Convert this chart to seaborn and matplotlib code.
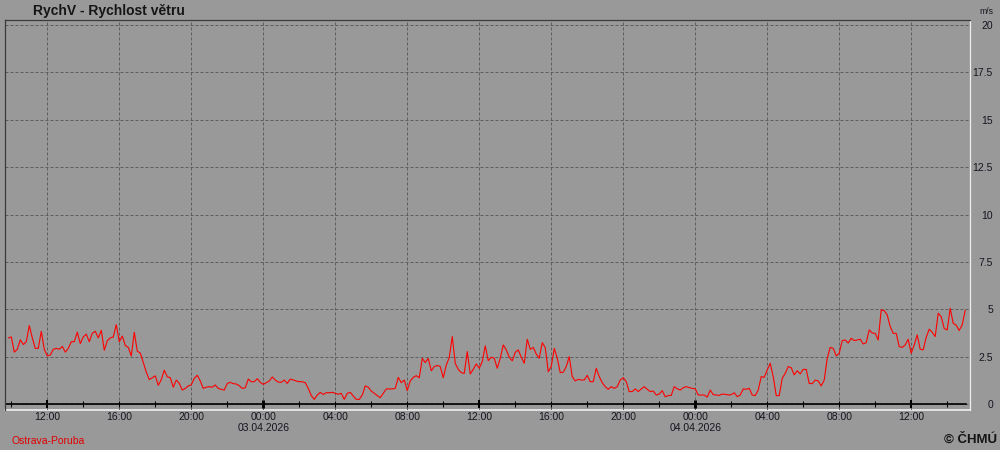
import pandas as pd
import matplotlib
matplotlib.use("Agg")
import matplotlib.pyplot as plt
import matplotlib.dates as mdates
from matplotlib.ticker import MultipleLocator, FuncFormatter
import seaborn as sns

# Wind speed (m/s), 10-minute readings
start_time = "2026-04-02 09:50"
station = "Ostrava-Poruba"
title = "RychV - Rychlost větru"

# 02.04.2026 09:50 - 23:50
speed_02 = [3.5, 3.55, 2.75, 2.9, 3.4, 3.15, 3.3, 4.15, 3.5, 2.95,
            2.95, 3.85, 2.9, 2.55, 2.6, 2.9, 2.95, 2.9, 3.05, 2.75,
            2.95, 3.3, 3.3, 3.8, 3.2, 3.55, 3.7, 3.3, 3.75, 3.85,
            3.5, 3.9, 2.85, 3.35, 3.5, 3.55, 4.2, 3.3, 3.6, 3.1,
            3.0, 2.55, 3.8, 2.8, 2.7, 2.2, 1.7, 1.3, 1.4, 1.5,
            1.0, 1.3, 1.8, 1.45, 1.4, 0.9, 1.28, 1.1, 0.75, 0.84,
            0.97, 1.02, 1.37, 1.53, 1.23, 0.84, 0.9, 0.93, 0.9, 1.02,
            0.84, 0.79, 0.75, 1.1, 1.16, 1.09, 1.07, 0.98, 0.84, 0.87,
            1.33, 1.19, 1.19, 1.35, 1.16]

# 03.04.2026 00:00 - 23:50
speed_03 = [1.05, 1.14, 1.23, 1.44, 1.28, 1.17, 1.16, 1.28, 1.1, 1.33,
            1.28, 1.23, 1.19, 1.19, 1.14, 0.84, 0.46, 0.26, 0.49, 0.63,
            0.52, 0.61, 0.61, 0.63, 0.58, 0.53, 0.58, 0.26, 0.58, 0.63,
            0.44, 0.26, 0.26, 0.49, 0.97, 0.9, 0.7, 0.58, 0.46, 0.35,
            0.58, 0.81, 0.81, 0.81, 0.84, 1.42, 1.14, 1.28, 0.72, 1.23,
            1.42, 1.51, 1.4, 2.42, 2.2, 2.42, 1.77, 1.99, 2.05, 1.99,
            1.4, 2.07, 2.46, 3.57, 2.16, 1.84, 1.67, 1.63, 2.78, 1.6,
            1.84, 2.13, 1.9, 2.25, 3.08, 2.3, 2.48, 2.43, 1.9, 2.43,
            3.13, 2.87, 2.48, 2.29, 2.74, 2.87, 2.48, 2.16, 3.43, 2.9,
            3.0, 2.65, 2.43, 3.25, 2.99, 1.72, 1.99, 2.95, 2.43, 1.67,
            1.69, 1.99, 2.51, 1.46, 1.23, 1.32, 1.28, 1.28, 1.53, 1.19,
            1.19, 1.9, 1.46, 1.14, 0.93, 0.79, 0.93, 0.84, 0.93, 1.28,
            1.4, 1.19, 0.67, 0.67, 0.81, 0.67, 0.81, 0.93, 0.79, 0.67,
            0.7, 0.49, 0.54, 0.72, 0.4, 0.46, 0.47, 0.93, 0.82, 0.75,
            0.88, 0.93, 0.88, 0.84]

# 04.04.2026 00:00 - 15:00
speed_04 = [0.82, 0.49, 0.49, 0.49, 0.38, 0.75, 0.51, 0.49, 0.47, 0.54,
            0.53, 0.49, 0.51, 0.61, 0.4, 0.49, 0.81, 0.79, 0.84, 0.49,
            0.46, 0.75, 1.46, 1.42, 1.81, 2.16, 1.46, 0.46, 0.46, 1.37,
            1.63, 1.99, 1.93, 1.55, 1.77, 1.6, 1.84, 1.84, 1.1, 1.09,
            1.28, 1.23, 0.97, 1.28, 2.42, 3.0, 2.95, 2.55, 2.69, 3.36,
            3.39, 3.23, 3.48, 3.36, 3.39, 3.43, 3.18, 3.25, 3.92, 3.76,
            3.74, 3.39, 4.98, 4.94, 4.71, 4.1, 3.74, 3.74, 3.04, 3.0,
            3.13, 3.43, 2.69, 3.13, 3.66, 2.9, 2.87, 3.53, 3.96, 3.8,
            3.57, 4.8, 4.62, 4.0, 3.92, 5.06, 4.27, 4.17, 3.89, 4.19,
            4.95]

speed = speed_02 + speed_03 + speed_04
df = pd.DataFrame({
    "time": pd.date_range(start_time, periods=len(speed), freq="10min"),
    "speed": speed,
})

bg = "#999999"
sns.set_style("ticks")
plt.rcParams["font.family"] = ["Liberation Sans", "DejaVu Sans"]

fig = plt.figure(figsize=(10, 4.5), dpi=100, facecolor=bg)
ax = fig.add_axes([0.005, 0.0889, 0.965, 0.8667])
ax.set_facecolor(bg)

sns.lineplot(data=df, x="time", y="speed", color="#ff0000", lw=0.8, ax=ax)

ax.set_xlim(pd.Timestamp("2026-04-02 09:39"), pd.Timestamp("2026-04-04 15:16"))
ax.set_ylim(-0.30, 20.26)
ax.set_xlabel("")
ax.set_ylabel("")


def time_label(x, pos):
    d = mdates.num2date(x)
    if d.hour == 0:
        return d.strftime("%H:%M\n%d.%m.%Y")
    return d.strftime("%H:%M")


ax.xaxis.set_major_locator(mdates.HourLocator(byhour=range(0, 24, 4)))
ax.xaxis.set_minor_locator(mdates.HourLocator(byhour=range(2, 24, 4)))
ax.xaxis.set_major_formatter(FuncFormatter(time_label))
ax.tick_params(axis="x", which="both", direction="inout", length=4.4, width=0.75,
               color="black", labelsize=7.5, labelcolor="#151520", pad=3.5)

ax.yaxis.tick_right()
ax.yaxis.set_major_locator(MultipleLocator(2.5))
ax.yaxis.set_major_formatter(FuncFormatter(lambda v, p: f"{v:g}"))
ax.tick_params(axis="y", length=0, pad=16.5, labelsize=7.5, labelcolor="#151520")
plt.setp(ax.get_yticklabels(), ha="right")

ax.grid(True, which="major", color="#5e5e5e", linestyle=(0, (3, 2)), lw=0.72)
ax.set_axisbelow(True)

# sunken panel frame: dark top/left, light right/bottom
ax.spines["left"].set_color("#3a3a3a")
ax.spines["top"].set_color("#3a3a3a")
ax.spines["right"].set_color("#eeeeee")
for s in ax.spines.values():
    s.set_linewidth(0.9)
ax.axhline(ax.get_ylim()[0], color="#eeeeee", lw=1.2, clip_on=False, zorder=0)

# time axis line sits at zero, spanning the data
ax.spines["bottom"].set_color("black")
ax.spines["bottom"].set_linewidth(1.2)
ax.spines["bottom"].set_position(("data", 0))
ax.spines["bottom"].set_bounds(mdates.date2num(df["time"].min()) - 0.003,
                               mdates.date2num(df["time"].max()) + 0.002)

fig.canvas.draw()
for loc, tick in zip(ax.get_xticks(), ax.xaxis.get_major_ticks()):
    hour = mdates.num2date(loc).hour
    if hour == 0:
        tick.tick1line.set_markeredgewidth(2.1)
        tick.tick1line.set_markersize(5.6)
    elif hour == 12:
        tick.tick1line.set_markeredgewidth(1.45)
        tick.tick1line.set_markersize(5.2)
for lbl in ax.get_xticklabels():
    lbl.set_linespacing(1.15)

fig.text(0.033, 1 - 10.5 / 450, title, fontsize=10, fontweight="bold",
         va="center", color="#151515")
fig.text(0.986, 1 - 11 / 450, "m/s", fontsize=6.2, ha="center", va="center",
         color="#151520")
fig.text(0.011, 1 - 441.5 / 450, station, color="#e00000", fontsize=7.5, va="center")
fig.text(0.997, 1 - 440 / 450, "© ČHMÚ", fontweight="bold", fontsize=9.5,
         ha="right", va="center", color="#151515")

fig.savefig("out.png", dpi=100, facecolor=bg)
